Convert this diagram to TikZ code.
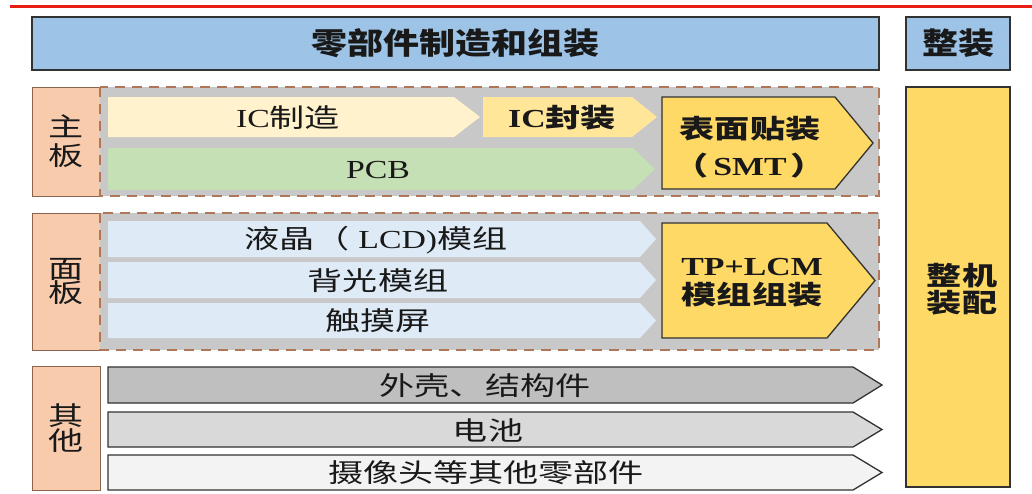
\documentclass[tikz,border=0pt]{standalone}
\usepackage{fontspec}
\setmainfont{Liberation Serif}
\newfontfamily\cjkw[FakeStretch=1.35]{Noto Sans CJK SC}
\newfontfamily\cjkt[FakeStretch=1.2]{Noto Sans CJK SC}
\newfontfamily\latw[FakeStretch=1.3]{Liberation Serif}
\newcommand\rmx[1]{{\latw #1}}
\definecolor{redline}{RGB}{230,30,20}
\definecolor{titleblue}{RGB}{157,195,230}
\definecolor{boxborder}{RGB}{50,50,50}
\definecolor{peach}{RGB}{248,203,173}
\definecolor{peachborder}{RGB}{140,100,75}
\definecolor{grpfill}{RGB}{200,200,200}
\definecolor{grpborder}{RGB}{175,118,88}
\definecolor{cream}{RGB}{255,242,204}
\definecolor{lightyellow}{RGB}{255,230,153}
\definecolor{pcbgreen}{RGB}{197,224,180}
\definecolor{gold}{RGB}{255,217,102}
\definecolor{paleblue}{RGB}{222,235,247}
\definecolor{grayA}{RGB}{191,191,191}
\definecolor{grayB}{RGB}{217,217,217}
\definecolor{grayC}{RGB}{243,243,243}
\definecolor{txtc}{RGB}{25,25,25}
\newcommand\arrowshape[6]{%
  \path[#1] (#2,#3) -- ({#4-#6},#3) -- (#4,{(#3+#5)/2}) -- ({#4-#6},#5) -- (#2,#5) -- cycle;}
\tikzset{
  txt/.style={font=\cjkw\fontsize{26}{30}\selectfont, text=txtc, inner sep=0pt, align=center},
  btxt/.style={font=\cjkw\bfseries\fontsize{26}{30}\selectfont, text=txtc, inner sep=0pt, align=center},
  headbox/.style={draw=boxborder, fill=titleblue, line width=1.4pt, inner sep=0pt,
    font=\cjkt\bfseries\fontsize{30}{34}\selectfont, text=txtc},
  labelbox/.style={draw=peachborder, fill=peach, line width=1pt, inner sep=0pt, align=center,
    font=\cjkw\fontsize{26}{30}\selectfont, text=txtc},
  groupbox/.style={draw=grpborder, fill=grpfill, line width=2.5pt, dash pattern=on 10pt off 7pt},
  flat/.style={fill=#1, draw=none},
  outlined/.style={fill=#1, draw=boxborder, line width=1.3pt, line join=miter},
}
\begin{document}
\begin{tikzpicture}[x=1pt,y=-1pt]
\useasboundingbox[fill=white] (0,0) rectangle (1032,493);
% red rule
\draw[redline, line width=3pt] (10,6) -- (1032,6);
% headers
\node[headbox, minimum width=847pt, minimum height=53pt] (title) at (455.5,43.5) {零部件制造和组装};
\node[headbox, minimum width=104pt, minimum height=53pt] (whole) at (958,43.5) {整装};
% final assembly
\node[draw=boxborder, fill=gold, line width=1.4pt, minimum width=104pt, minimum height=400pt, inner sep=0pt] (final) at (958,287) {};
\node[btxt, font=\cjkw\bfseries\fontsize{26}{27}\selectfont] (finaltxt) at (962,289) {整机\\装配};

% ---------- 主板 ----------
\node[labelbox, minimum width=68pt, minimum height=109pt, font=\cjkw\fontsize{26}{29}\selectfont] (mainlbl) at (66,141.5) {主\\板};
\path[groupbox] (100,87) rectangle (879,196);
\arrowshape{flat=cream}{108}{97}{480}{137}{26}
\arrowshape{flat=lightyellow}{483}{97}{657}{137}{25}
\arrowshape{flat=pcbgreen}{108}{148}{655}{190}{22}
\arrowshape{outlined=gold}{662}{97}{873}{189}{38}
\node[txt] (icmfg) at (288,118) {\rmx{IC}制造};
\node[btxt] (icpkg) at (562,118) {\rmx{IC}封装};
\node[txt] (pcb) at (378,170) {\rmx{PCB}};
\node[btxt, font=\cjkw\bfseries\fontsize{26}{37}\selectfont] (smt) at (750,147) {表面贴装\\（\rmx{\,SMT\,}）};

% ---------- 面板 ----------
\node[labelbox, minimum width=68pt, minimum height=137pt, font=\cjkw\fontsize{26}{22}\selectfont] (panellbl) at (66,281.5) {面\\板};
\path[groupbox] (100,213) rectangle (879,350);
\arrowshape{flat=paleblue}{108}{221}{656}{257}{16}
\arrowshape{flat=paleblue}{108}{262}{656}{298}{16}
\arrowshape{flat=paleblue}{108}{303}{656}{338}{16}
\arrowshape{outlined=gold}{662}{223}{875}{338}{48}
\node[txt] (lcd) at (376,240) {液晶（\rmx{ LCD)}模组};
\node[txt] (backlight) at (378,281) {背光模组};
\node[txt] (touch) at (378,321) {触摸屏};
\node[btxt, font=\cjkw\bfseries\fontsize{26}{29}\selectfont] (tplcm) at (752,283) {\rmx{TP+LCM}\\模组组装};

% ---------- 其他 ----------
\node[labelbox, minimum width=68pt, minimum height=124pt, font=\cjkw\fontsize{26}{25}\selectfont] (otherlbl) at (66,428) {其\\他};
\arrowshape{outlined=grayA}{108}{367}{882}{403}{29}
\arrowshape{outlined=grayB}{108}{412}{882}{447}{29}
\arrowshape{outlined=grayC}{108}{455}{882}{490}{29}
\node[txt] (shell) at (485,386) {外壳、结构件};
\node[txt] (battery) at (488,430) {电池};
\node[txt] (camera) at (486,473) {摄像头等其他零部件};
\end{tikzpicture}
\end{document}
